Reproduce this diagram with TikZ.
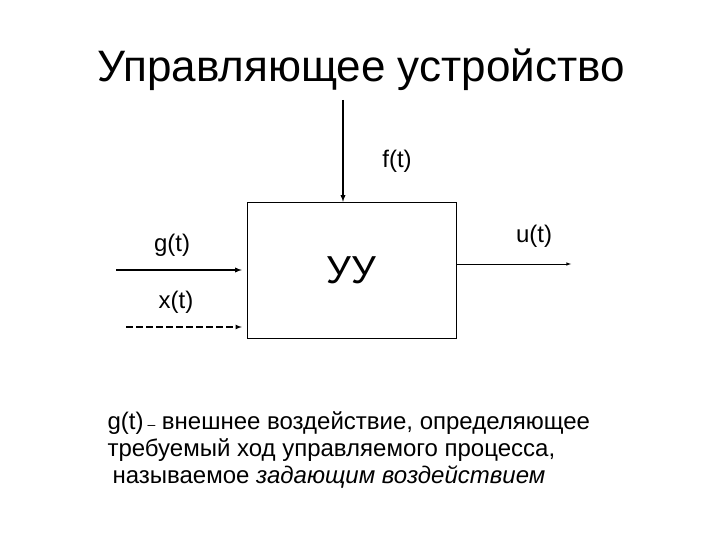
\documentclass[tikz,border=0pt]{standalone}
\usepackage{fontspec}
\setmainfont{Liberation Sans}

\begin{document}
\begin{tikzpicture}[x=1pt,y=-1pt]
		\useasboundingbox (0,0) rectangle (720,540);
		\tikzset{sig/.style={font=\fontsize{24}{24}\selectfont}}
		\node[font=\fontsize{44}{44}\selectfont] (title) at (361,70) {Управляющее устройство};
		\node[draw,minimum width=209pt,minimum height=136pt,font=\fontsize{39}{39}\selectfont] (uu) at (351.5,270) {УУ};
		\coordinate (ftop) at (343,100);
		\coordinate (gin) at (116,270);
		\coordinate (xin) at (126,327);
		\coordinate (uout) at (571,264);
		\draw[line width=1.3pt,-latex] (ftop) -- (ftop |- uu.north);
		\draw[line width=1.3pt,-latex] (gin) -- ([xshift=-5pt]uu.west |- gin);
		\draw[line width=1.1pt,dash pattern=on 7pt off 3pt,-latex] (xin) -- ([xshift=-5pt]uu.west |- xin);
		\draw[semithick,-latex] (uu.east |- uout) -- (uout);
		\node[sig] (f) at (397,161) {f(t)};
		\node[sig] (g) at (172,245) {g(t)};
		\node[sig] (x) at (176,302) {x(t)};
		\node[sig] (u) at (534,236) {u(t)};
		\node[anchor=west,align=left,font=\fontsize{24}{27}\selectfont] (note) at (104,450)
			{g(t)\,{\fontsize{14}{14}\selectfont –} внешнее воздействие, определяющее\\
			 требуемый ход управляемого процесса,\\
			 \hspace{5pt}называемое \textit{задающим воздействием}};
	\end{tikzpicture}
\end{document}
